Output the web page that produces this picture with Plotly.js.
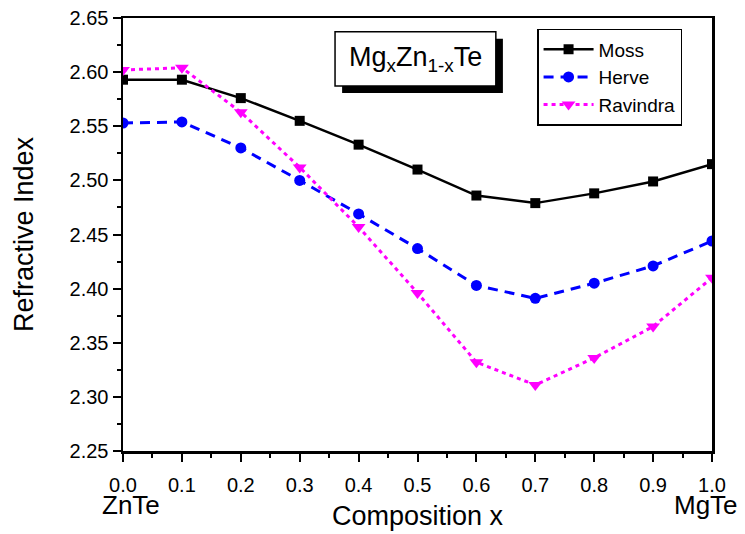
<!DOCTYPE html>
<html>
<head>
<meta charset="utf-8">
<script src="https://cdn.plot.ly/plotly-3.0.1.min.js"></script>
<style>
  html, body { margin: 0; padding: 0; background: #fff; }
  #chart { width: 745px; height: 534px; }
</style>
</head>
<body>
<div id="chart"></div>
<script>
// Data
const composition = [0.0, 0.1, 0.2, 0.3, 0.4, 0.5, 0.6, 0.7, 0.8, 0.9, 1.0];
const moss     = [2.593, 2.593, 2.576, 2.555, 2.533, 2.510, 2.486, 2.479, 2.488, 2.499, 2.515];
const herve    = [2.553, 2.554, 2.530, 2.500, 2.469, 2.437, 2.403, 2.391, 2.405, 2.421, 2.444];
const ravindra = [2.602, 2.604, 2.563, 2.512, 2.457, 2.396, 2.332, 2.311, 2.336, 2.365, 2.410];
const seriesNames = ["Moss", "Herve", "Ravindra"];
const endLabels = ["ZnTe", "MgTe"];

const FONT = "Arial, 'Liberation Sans', sans-serif";

const traces = [
  {
    x: composition, y: moss, name: seriesNames[0], type: "scatter", mode: "lines+markers",
    line: { color: "#000000", width: 2.5, dash: "solid" },
    marker: { symbol: "square", size: 10, color: "#000000" }
  },
  {
    x: composition, y: herve, name: seriesNames[1], type: "scatter", mode: "lines+markers",
    line: { color: "#0000ff", width: 3, dash: "10px,7px" },
    marker: { symbol: "circle", size: 11, color: "#0000ff" }
  },
  {
    x: composition, y: ravindra, name: seriesNames[2], type: "scatter", mode: "lines+markers",
    line: { color: "#ff00ff", width: 3, dash: "4px,4px" },
    marker: { symbol: "triangle-down", size: 12, color: "#ff00ff" }
  }
];

const layout = {
  width: 745, height: 534,
  margin: { l: 123, r: 33, t: 18, b: 83, pad: 0 },
  paper_bgcolor: "#ffffff",
  plot_bgcolor: "#ffffff",
  font: { family: FONT, color: "#000000" },
  showlegend: true,
  legend: {
    x: 0.703, y: 0.975, xanchor: "left", yanchor: "top",
    bgcolor: "#ffffff", bordercolor: "#000000", borderwidth: 1.5,
    font: { family: FONT, size: 19, color: "#000000" },
    tracegroupgap: 0, itemwidth: 50
  },
  xaxis: {
    range: [0, 1], dtick: 0.1, tick0: 0, tickformat: ".1f",
    showgrid: false, zeroline: false,
    showline: true, linecolor: "#000000", linewidth: 2.5, mirror: true,
    ticks: "outside", ticklen: 8, tickwidth: 2, tickcolor: "#000000",
    minor: { dtick: 0.05, ticks: "outside", ticklen: 4, tickwidth: 2, tickcolor: "#000000", showgrid: false },
    tickfont: { family: FONT, size: 20, color: "#000000" },
    ticklabelstandoff: 6,
    title: { text: "Composition x", font: { family: FONT, size: 27, color: "#000000" }, standoff: 12 },
    automargin: false
  },
  yaxis: {
    range: [2.25, 2.65], dtick: 0.05, tick0: 2.25, tickformat: ".2f",
    showgrid: false, zeroline: false,
    showline: true, linecolor: "#000000", linewidth: 2.5, mirror: true,
    ticks: "outside", ticklen: 8, tickwidth: 2, tickcolor: "#000000",
    minor: { dtick: 0.025, ticks: "outside", ticklen: 4, tickwidth: 2, tickcolor: "#000000", showgrid: false },
    tickfont: { family: FONT, size: 20, color: "#000000" },
    title: { text: "Refractive Index", font: { family: FONT, size: 27, color: "#000000" }, standoff: 28 },
    automargin: false
  },
  shapes: [
    { type: "rect", xref: "paper", yref: "paper", x0: 0.372, x1: 0.645, y0: 0.827, y1: 0.952,
      fillcolor: "#000000", line: { width: 0 }, layer: "above" },
    { type: "rect", xref: "paper", yref: "paper", x0: 0.360, x1: 0.633, y0: 0.843, y1: 0.968,
      fillcolor: "#ffffff", line: { color: "#000000", width: 1.5 }, layer: "above" }
  ],
  annotations: [
    { xref: "paper", yref: "paper", x: 0.4966, y: 0.905, xanchor: "center", yanchor: "middle",
      text: "Mg<sub>x</sub>Zn<sub>1-x</sub>Te", showarrow: false,
      font: { family: FONT, size: 27, color: "#000000" } },
    { xref: "paper", yref: "paper", x: -0.039, y: -0.125, xanchor: "left", yanchor: "middle",
      text: endLabels[0], showarrow: false,
      font: { family: FONT, size: 26, color: "#000000" } },
    { xref: "paper", yref: "paper", x: 1.0475, y: -0.125, xanchor: "right", yanchor: "middle",
      text: endLabels[1], showarrow: false,
      font: { family: FONT, size: 26, color: "#000000" } }
  ]
};

Plotly.newPlot("chart", traces, layout, { displayModeBar: false, staticPlot: true });
</script>
</body>
</html>
